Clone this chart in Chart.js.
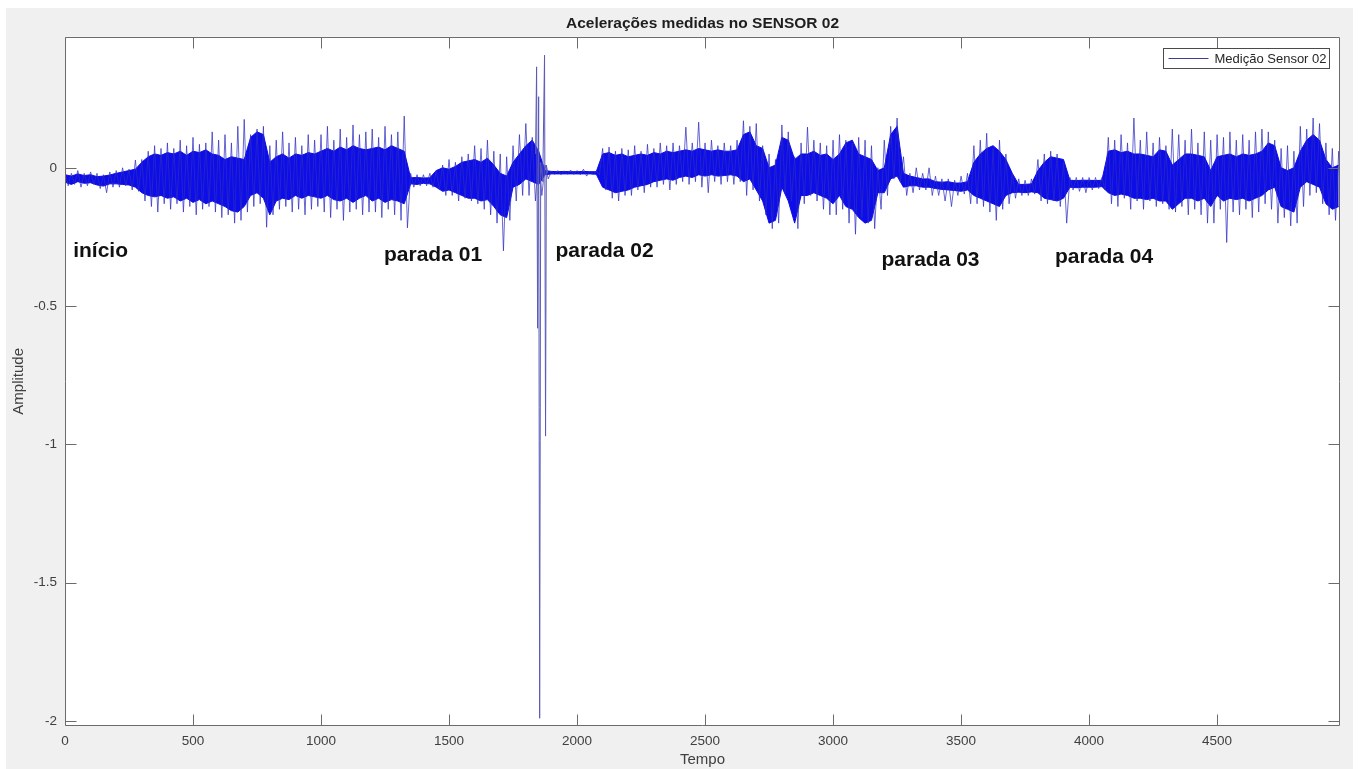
<!DOCTYPE html>
<html>
<head>
<meta charset="utf-8">
<script src="https://cdn.jsdelivr.net/npm/chart.js@4.4.1/dist/chart.umd.min.js"></script>
<style>
  html, body { margin: 0; padding: 0; background: #ffffff; }
  canvas { display: block; }
</style>
</head>
<body>
<canvas id="c" width="1359" height="769"></canvas>
<script>
// ---------- DATA ----------
const titleText = 'Acelerações medidas no SENSOR 02';
const xTitle = 'Tempo';
const yTitle = 'Amplitude';
const seriesName = 'Medição Sensor 02';

const xTicks = [0, 500, 1000, 1500, 2000, 2500, 3000, 3500, 4000, 4500];
const xTickLabels = ['0', '500', '1000', '1500', '2000', '2500', '3000', '3500', '4000', '4500'];
const yTicks = [-2, -1.5, -1, -0.5, 0];
const yTickLabels = ['-2', '-1.5', '-1', '-0.5', '0'];

// time step shared by all the envelope arrays below (t = 0, 25, ..., 4975)
const step = 25;

// dense core band of the signal (upper / lower edge)
const coreHi = [
  -0.025, -0.03, -0.022, -0.028, -0.025, -0.032, -0.03, -0.026,
  -0.02, -0.015, -0.01, -0.005, 0.02, 0.04, 0.05, 0.045,
  0.055, 0.05, 0.06, 0.045, 0.06, 0.055, 0.065, 0.05,
  0.045, 0.03, 0.04, 0.035, 0.03, 0.11, 0.13, 0.12,
  0.02, 0.04, 0.05, 0.035, 0.05, 0.045, 0.055, 0.05,
  0.06, 0.07, 0.06, 0.075, 0.065, 0.08, 0.07, 0.065,
  0.07, 0.075, 0.065, 0.08, 0.07, 0.06, -0.036, -0.035,
  -0.037, -0.036, -0.01, 0.0, -0.005, 0.005, 0.02, 0.025,
  0.03, 0.02, 0.035, 0.01, -0.02, -0.03, 0.02, 0.05,
  0.08, 0.1, 0.06, -0.01, -0.013, -0.014, -0.013, -0.014,
  -0.014, -0.013, -0.014, -0.014, 0.05, 0.055, 0.045, 0.05,
  0.04, 0.045, 0.05, 0.045, 0.055, 0.05, 0.06, 0.055,
  0.06, 0.065, 0.06, 0.07, 0.065, 0.06, 0.065, 0.06,
  0.06, 0.065, 0.12, 0.13, 0.08, 0.07, 0.0, 0.01,
  0.11, 0.1, 0.03, 0.05, 0.05, 0.06, 0.045, 0.05,
  0.03, 0.05, 0.09, 0.1, 0.05, 0.04, 0.03, -0.01,
  0.0, 0.12, 0.15, -0.02, -0.03, -0.035, -0.04, -0.04,
  -0.05, -0.052, -0.05, -0.055, -0.055, -0.05, 0.02, 0.05,
  0.07, 0.08, 0.06, 0.03, -0.02, -0.06, -0.06, -0.058,
  -0.01, 0.02, 0.04, 0.035, 0.03, -0.045, -0.046, -0.045,
  -0.045, -0.046, -0.045, 0.06, 0.065, 0.055, 0.06, 0.05,
  0.05, 0.045, 0.04, 0.065, 0.06, 0.01, 0.03, 0.05,
  0.05, 0.045, 0.04, -0.01, 0.04, 0.045, 0.05, 0.04,
  0.05, 0.045, 0.05, 0.06, 0.09, 0.08, 0.0, -0.01,
  0.0, 0.06, 0.1, 0.12, 0.1, 0.03, 0.0, 0.01
];
const coreLo = [
  -0.052, -0.06, -0.05, -0.056, -0.054, -0.062, -0.066, -0.058,
  -0.058, -0.06, -0.062, -0.07, -0.09, -0.1, -0.105, -0.1,
  -0.11, -0.105, -0.12, -0.11, -0.125, -0.115, -0.13, -0.12,
  -0.13, -0.14, -0.155, -0.16, -0.14, -0.1, -0.09, -0.11,
  -0.17, -0.12, -0.11, -0.115, -0.1, -0.11, -0.1, -0.105,
  -0.11, -0.1, -0.115, -0.12, -0.11, -0.125, -0.11, -0.1,
  -0.12, -0.11, -0.125, -0.115, -0.12, -0.13, -0.058, -0.06,
  -0.056, -0.058, -0.07, -0.085, -0.08, -0.09, -0.1, -0.11,
  -0.11, -0.12, -0.115, -0.14, -0.17, -0.18, -0.07, -0.06,
  -0.04, -0.05, -0.06, -0.025, -0.022, -0.022, -0.022, -0.022,
  -0.022, -0.022, -0.022, -0.023, -0.07, -0.08, -0.09, -0.085,
  -0.08, -0.07, -0.065, -0.06, -0.05, -0.045, -0.04, -0.045,
  -0.035, -0.03, -0.035, -0.025, -0.03, -0.025, -0.03, -0.028,
  -0.025, -0.03, -0.05, -0.04, -0.08, -0.12, -0.2, -0.19,
  -0.07, -0.12, -0.2, -0.1, -0.1, -0.09, -0.1, -0.11,
  -0.13, -0.1, -0.14, -0.15, -0.18, -0.2, -0.19, -0.09,
  -0.09, -0.04, -0.03, -0.07, -0.065, -0.065, -0.07, -0.07,
  -0.075, -0.078, -0.08, -0.082, -0.085, -0.08, -0.1, -0.11,
  -0.12, -0.13, -0.14, -0.1, -0.09, -0.088, -0.09, -0.087,
  -0.09, -0.11, -0.115, -0.12, -0.11, -0.07, -0.072, -0.07,
  -0.07, -0.07, -0.068, -0.09, -0.1, -0.095, -0.1, -0.11,
  -0.11, -0.115, -0.11, -0.12, -0.12, -0.15, -0.13, -0.11,
  -0.11, -0.12, -0.11, -0.14, -0.1, -0.12, -0.11, -0.115,
  -0.11, -0.12, -0.11, -0.1, -0.08, -0.07, -0.14, -0.15,
  -0.16, -0.07, -0.05, -0.06, -0.07, -0.13, -0.15, -0.14
];

// extreme excursions (max / min) seen in each 25-unit window
const peakHi = [
  -0.015, -0.02, -0.01, -0.02, -0.015, -0.02, -0.025, -0.015,
  -0.01, 0.0, -0.005, 0.028, 0.03, 0.06, 0.08, 0.07,
  0.09, 0.07, 0.1, 0.08, 0.11, 0.085, 0.09, 0.13,
  0.1, 0.12, 0.09, 0.15, 0.175, 0.12, 0.14, 0.15,
  0.08, 0.1, 0.13, 0.09, 0.11, 0.08, 0.12, 0.1,
  0.12, 0.15, 0.1, 0.14, 0.11, 0.155, 0.12, 0.13,
  0.14, 0.11, 0.15, 0.12, 0.13, 0.187, -0.02, -0.025,
  -0.025, -0.02, -0.01, 0.01, 0.03, 0.02, 0.04, 0.05,
  0.08, 0.07, 0.1, 0.06, 0.05, 0.04, 0.08, 0.12,
  0.16, 0.11, 0.05, 0.01, -0.012, -0.01, -0.012, -0.008,
  -0.01, -0.005, -0.012, -0.012, 0.07, 0.075, 0.06, 0.07,
  0.065, 0.08, 0.06, 0.085, 0.07, 0.09, 0.08, 0.09,
  0.08, 0.147, 0.09, 0.165, 0.09, 0.1, 0.08, 0.09,
  0.08, 0.1, 0.17, 0.15, 0.16, 0.08, 0.05, 0.03,
  0.155, 0.13, 0.04, 0.09, 0.147, 0.1, 0.09, 0.08,
  0.1, 0.12, 0.1, 0.09, 0.11, 0.1, 0.08, 0.0,
  0.1, 0.15, 0.18, 0.04, -0.02, 0.0, -0.02, 0.0,
  -0.03, -0.04, -0.04, -0.045, -0.03, -0.02, 0.08, 0.1,
  0.125, 0.07, 0.1, 0.05, -0.02, -0.04, -0.045, -0.04,
  0.03, 0.05, 0.06, 0.05, 0.02, -0.035, -0.035, -0.035,
  -0.035, -0.035, -0.035, 0.11, 0.1, 0.12, 0.09, 0.18,
  0.1, 0.13, 0.09, 0.11, 0.08, 0.14, 0.12, 0.1,
  0.14, 0.09, 0.13, 0.1, 0.12, 0.11, 0.13, 0.1,
  0.12, 0.1, 0.13, 0.14, 0.13, 0.1, 0.07, 0.08,
  0.06, 0.15, 0.14, 0.18, 0.16, 0.09, 0.07, 0.06
];
const peakLo = [
  -0.065, -0.06, -0.07, -0.065, -0.06, -0.075, -0.09, -0.07,
  -0.07, -0.065, -0.08, -0.085, -0.12, -0.14, -0.16, -0.13,
  -0.15, -0.13, -0.16, -0.14, -0.17, -0.15, -0.14, -0.16,
  -0.18, -0.17, -0.2, -0.19, -0.16, -0.14, -0.13, -0.215,
  -0.17, -0.15, -0.14, -0.16, -0.15, -0.17, -0.15, -0.14,
  -0.16, -0.18, -0.15, -0.19, -0.16, -0.15, -0.17, -0.16,
  -0.16, -0.18, -0.15, -0.17, -0.19, -0.217, -0.07, -0.065,
  -0.065, -0.07, -0.08, -0.1, -0.1, -0.12, -0.11, -0.12,
  -0.13, -0.15, -0.17, -0.2, -0.3, -0.19, -0.12, -0.1,
  -0.1, -0.12, -0.1, -0.04, -0.024, -0.025, -0.023, -0.024,
  -0.025, -0.03, -0.024, -0.025, -0.08, -0.11, -0.12, -0.1,
  -0.1, -0.08, -0.09, -0.07, -0.07, -0.06, -0.08, -0.06,
  -0.05, -0.06, -0.05, -0.07, -0.09, -0.05, -0.06, -0.05,
  -0.06, -0.05, -0.1, -0.08, -0.12, -0.17, -0.22, -0.2,
  -0.09, -0.12, -0.22, -0.13, -0.1, -0.12, -0.15, -0.17,
  -0.17, -0.15, -0.2, -0.24, -0.18, -0.2, -0.22, -0.15,
  -0.1, -0.04, -0.05, -0.1, -0.09, -0.08, -0.08, -0.1,
  -0.1, -0.12, -0.14, -0.1, -0.095, -0.13, -0.13, -0.14,
  -0.16, -0.19, -0.15, -0.13, -0.11, -0.1, -0.1, -0.095,
  -0.12, -0.13, -0.12, -0.14, -0.2, -0.08, -0.085, -0.09,
  -0.08, -0.075, -0.08, -0.13, -0.14, -0.11, -0.15, -0.12,
  -0.15, -0.12, -0.14, -0.13, -0.15, -0.16, -0.14, -0.17,
  -0.15, -0.17, -0.2, -0.2, -0.15, -0.27, -0.16, -0.17,
  -0.15, -0.18, -0.16, -0.13, -0.15, -0.2, -0.18, -0.21,
  -0.2, -0.14, -0.1, -0.09, -0.13, -0.17, -0.19, -0.16
];

// large transients around t = 1850
const spikeT = [1838, 1842, 1846, 1850, 1854, 1858, 1866, 1873, 1877, 1880, 1886];
const spikeV = [0.05, 0.365, -0.58, 0.257, -1.99, 0.02, -0.05, 0.407, -0.97, 0.01, -0.02];

// text annotations and their anchor (data units: time, amplitude)
const noteTexts = ['início', 'parada 01', 'parada 02', 'parada 03', 'parada 04'];
const noteT = [32, 1246, 1916, 3189, 3867];
const noteV = [-0.323, -0.337, -0.323, -0.355, -0.345];

// ---------- BUILD ----------
const FONT = "'Liberation Sans', Arial, Helvetica, sans-serif";
Chart.defaults.font.family = FONT;

const signalPts = [];
peakHi.forEach((v, i) => {
  signalPts.push({ x: i * step, y: v });
  signalPts.push({ x: i * step + step / 2, y: peakLo[i] });
});
const hiPts = coreHi.map((v, i) => ({ x: i * step, y: v }));
const loPts = coreLo.map((v, i) => ({ x: i * step, y: v }));
const spikePts = spikeT.map((t, i) => ({ x: t, y: spikeV[i] }));

const frame = {
  id: 'frame',
  beforeDraw(chart) {
    const { ctx, chartArea: a } = chart;
    ctx.save();
    ctx.fillStyle = '#ffffff';
    ctx.fillRect(0, 0, chart.width, chart.height);
    ctx.fillStyle = '#f0f0f0';
    ctx.fillRect(6, 8, 1347, 761);
    ctx.fillStyle = '#ffffff';
    ctx.fillRect(a.left, a.top, a.right - a.left, a.bottom - a.top);
    ctx.restore();
  },
  afterDatasetsDraw(chart) {
    const { ctx, scales: { x, y } } = chart;
    ctx.save();
    ctx.fillStyle = '#111111';
    ctx.font = 'bold 21px ' + FONT;
    ctx.textAlign = 'left';
    ctx.textBaseline = 'alphabetic';
    noteTexts.forEach((s, i) => {
      ctx.fillText(s, x.getPixelForValue(noteT[i]), y.getPixelForValue(noteV[i]));
    });
    ctx.restore();
  },
  afterDraw(chart) {
    const { ctx, chartArea: a, scales: { x, y } } = chart;
    const L = Math.round(a.left) + 0.5, R = Math.round(a.right) - 0.5;
    const T = Math.round(a.top) + 0.5, B = Math.round(a.bottom) - 0.5;
    const TL = 11;
    ctx.save();
    ctx.strokeStyle = '#6b6b6b';
    ctx.lineWidth = 1;
    ctx.beginPath();
    ctx.rect(L, T, R - L, B - T);
    xTicks.forEach(v => {
      const p = Math.round(x.getPixelForValue(v)) + 0.5;
      ctx.moveTo(p, B); ctx.lineTo(p, B - TL);
      ctx.moveTo(p, T); ctx.lineTo(p, T + TL);
    });
    yTicks.forEach(v => {
      const p = Math.round(y.getPixelForValue(v)) + 0.5;
      ctx.moveTo(L, p); ctx.lineTo(L + TL, p);
      ctx.moveTo(R, p); ctx.lineTo(R - TL, p);
    });
    ctx.stroke();

    // legend box (inside axes, top right)
    const bw = 166, bh = 20;
    const bx = Math.round(a.right) - 11 - bw + 0.5, by = Math.round(a.top) + 11 + 0.5;
    ctx.fillStyle = '#ffffff';
    ctx.fillRect(bx, by, bw, bh);
    ctx.strokeStyle = '#4a4a4a';
    ctx.strokeRect(bx, by, bw, bh);
    ctx.strokeStyle = '#3f3f8f';
    ctx.beginPath();
    ctx.moveTo(bx + 5, by + bh / 2);
    ctx.lineTo(bx + 45, by + bh / 2);
    ctx.stroke();
    ctx.fillStyle = '#262626';
    ctx.font = '13px ' + FONT;
    ctx.textAlign = 'left';
    ctx.textBaseline = 'middle';
    ctx.fillText(seriesName, bx + 51, by + bh / 2 + 0.5);
    ctx.restore();
  }
};

new Chart(document.getElementById('c'), {
  type: 'line',
  data: {
    datasets: [
      { label: seriesName, data: spikePts, borderColor: '#5a5ab8', borderWidth: 1, pointRadius: 0, fill: false, tension: 0 },
      { label: seriesName, data: signalPts, borderColor: 'rgba(45,45,195,0.72)', borderWidth: 1, pointRadius: 0, fill: false, tension: 0 },
      { label: 'core', data: hiPts, borderColor: '#0d0de8', backgroundColor: '#0d0de8', borderWidth: 1, pointRadius: 0, fill: '+1', tension: 0 },
      { label: 'core2', data: loPts, borderColor: '#0d0de8', borderWidth: 1, pointRadius: 0, fill: false, tension: 0 }
    ]
  },
  options: {
    responsive: false,
    animation: false,
    devicePixelRatio: 1,
    events: [],
    layout: { padding: { left: 0, right: 19, top: 0, bottom: 0 } },
    plugins: {
      legend: { display: false },
      tooltip: { enabled: false },
      title: {
        display: true, text: titleText, fullSize: false, color: '#1e1e1e',
        font: { family: FONT, size: 15.5, weight: 'bold' },
        padding: { top: 14.7, bottom: 3.4 }
      }
    },
    scales: {
      x: {
        type: 'linear', min: 0, max: 4980,
        grid: { display: false, drawTicks: false },
        border: { display: false },
        ticks: {
          padding: 7, color: '#404040', font: { family: FONT, size: 13.5 },
          maxRotation: 0, autoSkip: false,
          callback: (v) => { const i = xTicks.indexOf(v); return i >= 0 ? xTickLabels[i] : ''; }
        },
        afterBuildTicks: s => { s.ticks = xTicks.map(v => ({ value: v })); },
        afterFit: s => { s.height = 43; },
        title: { display: true, text: xTitle, color: '#404040', font: { family: FONT, size: 15 }, padding: { top: 0, bottom: 0 } }
      },
      y: {
        type: 'linear', min: -2.018, max: 0.474,
        grid: { display: false, drawTicks: false },
        border: { display: false },
        ticks: {
          padding: 8, color: '#404040', font: { family: FONT, size: 13.5 },
          callback: (v) => { const i = yTicks.indexOf(v); return i >= 0 ? yTickLabels[i] : ''; }
        },
        afterBuildTicks: s => { s.ticks = yTicks.map(v => ({ value: v })); },
        afterFit: s => { s.width = 65; },
        title: { display: true, text: yTitle, color: '#404040', font: { family: FONT, size: 15 }, padding: { top: 10, bottom: 0 } }
      }
    }
  },
  plugins: [frame]
});
</script>
</body>
</html>
